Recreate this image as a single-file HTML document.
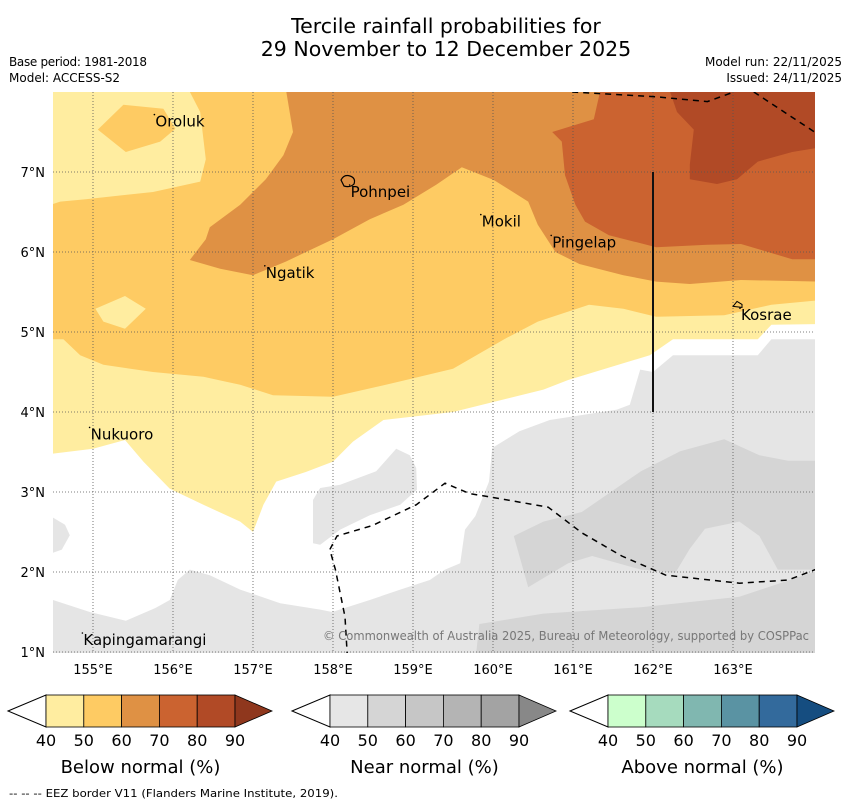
<!DOCTYPE html>
<html><head><meta charset="utf-8"><style>
body{margin:0;background:#fff;}
svg{display:block;font-family:"DejaVu Sans","Liberation Sans",sans-serif;}
</style></head><body>
<svg id="c" width="850" height="804" viewBox="0 0 850 804" xmlns="http://www.w3.org/2000/svg">
<text x="446" y="33" font-size="20.5" text-anchor="middle">Tercile rainfall probabilities for</text>
<text x="446" y="56" font-size="20.5" text-anchor="middle">29 November to 12 December 2025</text>
<text x="9" y="66" font-size="12" textLength="138">Base period: 1981-2018</text>
<text x="9" y="82" font-size="12">Model: ACCESS-S2</text>
<text x="842" y="66" font-size="12" text-anchor="end">Model run: 22/11/2025</text>
<text x="842" y="82" font-size="12" text-anchor="end">Issued: 24/11/2025</text>
<defs><clipPath id="mc"><rect x="53" y="92" width="762" height="561"/></clipPath></defs>
<g id="map" clip-path="url(#mc)"></g>
<g id="over"></g>
<text x="323" y="640" font-size="12" fill="#777" textLength="486" lengthAdjust="spacingAndGlyphs">© Commonwealth of Australia 2025, Bureau of Meteorology, supported by COSPPac</text>
<g id="cb"></g>
<text x="9" y="797" font-size="11" textLength="329" lengthAdjust="spacingAndGlyphs">--  --  -- EEZ border V11 (Flanders Marine Institute, 2019).</text>
</svg>
<script>
const lonTicks=[155,156,157,158,159,160,161,162,163];
const latTicks=[1,2,3,4,5,6,7];
const grayLight=[[154.5,1.65],[154.96,1.5],[155.41,1.39],[155.78,1.55],[155.96,1.65],[156.06,1.9],[156.21,2.03],[156.46,1.96],[156.84,1.78],[157.34,1.61],[157.84,1.53],[157.99,1.5],[158.46,1.65],[158.84,1.78],[159.21,1.9],[159.4,2.03],[159.59,2.11],[159.65,2.53],[159.78,2.7],[159.95,3.13],[159.99,3.55],[160.33,3.76],[160.71,3.9],[161.55,4.03],[161.71,4.09],[161.84,4.53],[162.0,4.5],[162.25,4.71],[163.31,4.71],[163.48,4.91],[164.1,4.91],[164.1,0.9],[154.5,0.9]];
const grayLeft=[[154.5,2.68],[154.65,2.59],[154.71,2.46],[154.61,2.28],[154.5,2.24]];
const grayMid=[[157.75,2.36],[157.75,2.9],[157.84,3.05],[158.09,3.09],[158.54,3.26],[158.79,3.54],[158.96,3.46],[159.04,3.3],[159.05,3.03],[158.84,2.84],[158.46,2.71],[158.09,2.53],[157.84,2.34]];
const grayDarkUpper=[[160.26,2.45],[160.63,2.63],[161.11,2.75],[161.85,3.26],[162.34,3.51],[162.89,3.66],[163.33,3.46],[163.69,3.39],[164.1,3.39],[164.1,2.03],[163.56,2.03],[163.33,2.45],[163.08,2.63],[162.65,2.54],[162.46,2.29],[162.28,1.99],[161.85,2.03],[161.24,2.2],[160.94,2.11],[160.44,1.81]];
const grayDarkLower=[[159.78,0.9],[159.83,1.35],[160.63,1.48],[161.85,1.56],[163.08,1.69],[164.1,2.03],[164.1,0.9]];
const below40=[[154.5,8.1],[154.5,3.48],[155.0,3.54],[155.4,3.65],[155.63,3.38],[155.96,3.04],[156.38,2.84],[156.84,2.63],[157.0,2.5],[157.13,2.84],[157.29,3.13],[157.66,3.25],[158.0,3.38],[158.25,3.63],[158.63,3.9],[159.5,4.0],[160.63,4.28],[160.94,4.4],[161.96,4.71],[162.25,4.91],[163.31,4.91],[163.48,5.09],[164.1,5.1],[164.1,8.1]];
const below50=[[154.5,8.1],[154.5,4.91],[154.63,4.91],[154.84,4.71],[155.13,4.59],[155.75,4.5],[156.38,4.44],[156.84,4.34],[157.25,4.21],[158.0,4.19],[158.66,4.34],[159.5,4.54],[160.14,4.91],[160.56,5.13],[161.2,5.34],[161.63,5.29],[162.04,5.19],[162.89,5.21],[163.48,5.34],[164.1,5.4],[164.1,8.1]];
const below40TopLeft=[[154.5,8.1],[156.16,8.1],[156.34,7.75],[156.41,7.16],[156.34,6.88],[155.75,6.75],[154.91,6.66],[154.59,6.63],[154.5,6.6]];
const below50Oroluk=[[155.06,7.53],[155.38,7.84],[155.88,7.79],[156.03,7.54],[155.84,7.38],[155.41,7.25]];
const below40Small=[[155.03,5.29],[155.4,5.45],[155.66,5.29],[155.4,5.04],[155.13,5.13]];
const below60=[[157.4,8.1],[157.5,7.5],[157.38,7.21],[157.16,6.91],[156.84,6.59],[156.46,6.31],[156.41,6.16],[156.21,5.9],[156.59,5.79],[157.0,5.71],[157.41,5.88],[158.0,6.16],[158.46,6.41],[158.88,6.59],[159.29,6.84],[159.61,7.06],[160.01,6.9],[160.44,6.63],[160.56,6.34],[160.78,6.0],[161.08,5.85],[161.63,5.71],[162.04,5.63],[162.46,5.6],[163.1,5.65],[164.1,5.63],[164.1,8.1]];
const below70=[[161.36,8.1],[161.26,7.66],[160.74,7.5],[160.86,7.38],[160.9,6.96],[161.03,6.59],[161.15,6.38],[161.45,6.21],[162.04,6.06],[162.68,6.09],[163.1,6.1],[163.74,5.91],[164.1,5.91],[164.1,8.1]];
const below80=[[162.18,8.1],[162.3,7.75],[162.51,7.53],[162.46,7.09],[162.46,6.91],[162.8,6.85],[163.05,6.91],[163.31,7.13],[163.74,7.25],[164.1,7.31],[164.1,8.1]];
const eezTop=[[160.99,8.0],[162.04,7.94],[162.68,7.88],[163.01,8.0]];
const eezTopRight=[[163.26,8.0],[164.08,7.46]];
const eezSouth=[[158.18,0.93],[158.15,1.44],[158.03,2.03],[157.96,2.28],[158.05,2.45],[158.49,2.58],[159.04,2.84],[159.4,3.11],[159.71,2.98],[160.01,2.93],[160.69,2.81],[161.11,2.49],[161.61,2.2],[162.16,1.96],[163.08,1.86],[163.69,1.9],[164.08,2.05]];
const boundaryLine=[[162.0,7.0],[162.0,4.0]];
const islandNames=["Oroluk","Pohnpei","Mokil","Pingelap","Ngatik","Kosrae","Nukuoro","Kapingamarangi"];
const islandLon=[155.78,158.22,159.86,160.74,157.16,163.1,154.97,154.88];
const islandLat=[7.73,6.85,6.48,6.22,5.84,5.31,3.82,1.25];
const cbLevels=[40,50,60,70,80,90];
const cbBelow=["#ffeda0","#fecb63","#df9144","#cb6330","#b14a26","#8f371d"];
const cbNear=["#e6e6e6","#d5d5d5","#c6c6c6","#b4b4b4","#a3a3a3","#888888"];
const cbAbove=["#ccffcc","#a6dbbe","#80b7b0","#5a93a3","#336a9c","#154d80"];
const cbTitles=["Below normal (%)","Near normal (%)","Above normal (%)"];
const cbLeft=[8,292,570];

const NS="http://www.w3.org/2000/svg";
const X=lon=>53+(lon-154.5)*80;
const Y=lat=>92+(8-lat)*80;
function mk(tag,attrs,parent){const e=document.createElementNS(NS,tag);for(const k in attrs)e.setAttribute(k,attrs[k]);parent.appendChild(e);return e;}
const map=document.getElementById('map'),over=document.getElementById('over'),cb=document.getElementById('cb');
const pts=a=>a.map(p=>X(p[0]).toFixed(1)+','+Y(p[1]).toFixed(1)).join(' ');
const layers=[[grayLight,'#e5e5e5','near-normal-40'],[grayLeft,'#e5e5e5','near-normal-40-west'],[grayMid,'#e5e5e5','near-normal-40-central'],[grayDarkUpper,'#d5d5d5','near-normal-50-east'],[grayDarkLower,'#d5d5d5','near-normal-50-south'],[below40,'#ffeda0','below-normal-40'],[below50,'#fecb63','below-normal-50'],[below40TopLeft,'#ffeda0','below-normal-40-northwest'],[below50Oroluk,'#fecb63','below-normal-50-oroluk'],[below40Small,'#ffeda0','below-normal-40-patch'],[below60,'#df9144','below-normal-60'],[below70,'#cb6330','below-normal-70'],[below80,'#b14a26','below-normal-80']];
layers.forEach(L=>{const e=mk('polygon',{points:pts(L[0]),fill:L[1]},map);

});
lonTicks.forEach(v=>{const l=mk('line',{x1:X(v),x2:X(v),y1:92,y2:653,stroke:'#555','stroke-width':0.8,'stroke-dasharray':'1,2'},map);


const t=mk('text',{x:X(v),y:674,'font-size':13,'text-anchor':'middle'},over);t.textContent=v+'°E';

});
latTicks.forEach(v=>{const l=mk('line',{x1:53,x2:815,y1:Y(v),y2:Y(v),stroke:'#555','stroke-width':0.8,'stroke-dasharray':'1,2'},map);


const t=mk('text',{x:45,y:Y(v)+5,'font-size':13,'text-anchor':'end'},over);t.textContent=v+'°N';

});
[[eezTop,'eez-north'],[eezTopRight,'eez-northeast'],[eezSouth,'eez-south']].forEach(E=>{const e=mk('polyline',{points:pts(E[0]),fill:'none',stroke:'#000','stroke-width':1.5,'stroke-dasharray':'6,5'},map);

});
const bl=mk('polyline',{points:pts(boundaryLine),stroke:'#111','stroke-width':2,fill:'none'},map);


const po=mk('path',{d:`M${X(158.1)},${Y(6.9)} q3,-6 9,-4 q6,2 4,8 q-4,4 -10,2 z`,fill:'none',stroke:'#000','stroke-width':1.2},map);


const ko=mk('path',{d:`M${X(163.0)},${Y(5.32)} l4,-5 l5,3 l0,3 z`,fill:'none',stroke:'#000','stroke-width':1},map);


islandNames.forEach((n,i)=>{const t=mk('text',{x:X(islandLon[i]),y:Y(islandLat[i])+13,'font-size':15},over);t.textContent=n;


const d=mk('circle',{cx:X(islandLon[i])-1,cy:Y(islandLat[i])+1,r:0.8,fill:'#000'},over);

});
[cbBelow,cbNear,cbAbove].forEach((cols,k)=>{const x0=cbLeft[k],bx=x0+38,w=37.8,top=695,bot=727,mid=711;
const g=mk('g',{},cb);


const lt=mk('polygon',{points:`${x0},${mid} ${bx},${top} ${bx},${bot}`,fill:'#fff',stroke:'#000','stroke-width':1},g);


for(let i=0;i<5;i++){const r=mk('rect',{x:bx+i*w,y:top,width:w,height:bot-top,fill:cols[i],stroke:'#000','stroke-width':0.8},g);

}
const ex=bx+5*w;
const rt=mk('polygon',{points:`${ex},${top} ${ex+37},${mid} ${ex},${bot}`,fill:cols[5],stroke:'#000','stroke-width':0.8},g);


cbLevels.forEach((v,i)=>{const t=mk('text',{x:bx+i*w,y:746,'font-size':16,'text-anchor':'middle'},g);t.textContent=v;

});
const tt=mk('text',{x:bx+2.5*w,y:773,'font-size':18,'text-anchor':'middle'},g);tt.textContent=cbTitles[k];

});
</script>
</body></html>
